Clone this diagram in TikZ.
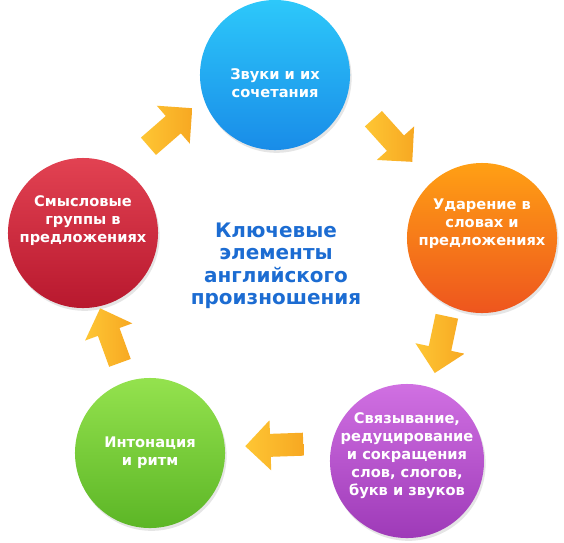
\documentclass[tikz,border=0pt]{standalone}
\usepackage{fontspec}
\setmainfont{DejaVu Sans}
\usepackage{xcolor}
\usepackage{tikz}
\usetikzlibrary{positioning, shapes.arrows, shadows}
\definecolor{blueTop}{RGB}{45,200,250}
\definecolor{blueBot}{RGB}{25,140,232}
\definecolor{orangeTop}{RGB}{255,160,20}
\definecolor{orangeBot}{RGB}{238,85,30}
\definecolor{purpleTop}{RGB}{208,112,226}
\definecolor{purpleBot}{RGB}{158,58,184}
\definecolor{greenTop}{RGB}{148,226,78}
\definecolor{greenBot}{RGB}{92,182,38}
\definecolor{redTop}{RGB}{226,66,82}
\definecolor{redBot}{RGB}{184,24,46}
\definecolor{arrowTop}{RGB}{254,198,52}
\definecolor{arrowBot}{RGB}{247,168,34}
\definecolor{titleBlue}{RGB}{28,108,210}
\tikzset{
    ball/.style={circle, minimum size=3.75cm, inner sep=0pt,
        drop shadow={opacity=0.2, shadow xshift=0.4mm, shadow yshift=-0.7mm}},
    balltext/.style={align=center, text=white, font=\bfseries\fontsize{10.4}{12.8}\selectfont},
    title/.style={align=center, text=titleBlue, font=\bfseries\fontsize{14.2}{16}\selectfont},
    fatarrow/.style={single arrow, inner xsep=0pt, inner ysep=0.28cm,
        minimum height=1.45cm, single arrow head extend=0.34cm,
        shading=axis, left color=arrowTop, right color=arrowBot}
}
\begin{document}
\begin{tikzpicture}[x=0.025cm, y=-0.025cm]
    \useasboundingbox[fill=white] (0,0) rectangle (564,542);

    % Circles
    \node[ball, top color=blueTop, bottom color=blueBot,
        label={[balltext, yshift=-6pt]center:Звуки и их\\сочетания}] (Sounds) at (275,75) {};
    \node[ball, top color=orangeTop, bottom color=orangeBot,
        label={[balltext, yshift=10pt]center:Ударение в\\словах и\\предложениях}] (Stress) at (482,238) {};
    \node[ball, minimum size=3.85cm, top color=purpleTop, bottom color=purpleBot,
        label={[balltext, yshift=4pt]center:Связывание,\\редуцирование\\и сокращения\\слов, слогов,\\букв и звуков}] (Linking) at (407,461) {};
    \node[ball, top color=greenTop, bottom color=greenBot,
        label={[balltext]center:Интонация\\и ритм}] (Intonation) at (150,453) {};
    \node[ball, top color=redTop, bottom color=redBot,
        label={[balltext, yshift=8.5pt]center:Смысловые\\группы в\\предложениях}] (Groups) at (83,233) {};

    % Title
    \node[title] (Title) at (276,266) {Ключевые\\элементы\\английского\\произношения};

    % Arrows
    \node[fatarrow, rotate=41] (GroupsToSounds) at (166,131) {};
    \node[fatarrow, rotate=-48] (SoundsToStress) at (389,136) {};
    \node[fatarrow, rotate=-102] (StressToLinking) at (442,339) {};
    \node[fatarrow, rotate=182] (LinkingToIntonation) at (280,445) {};
    \node[fatarrow, rotate=110] (IntonationToGroups) at (112,341) {};
\end{tikzpicture}
\end{document}
